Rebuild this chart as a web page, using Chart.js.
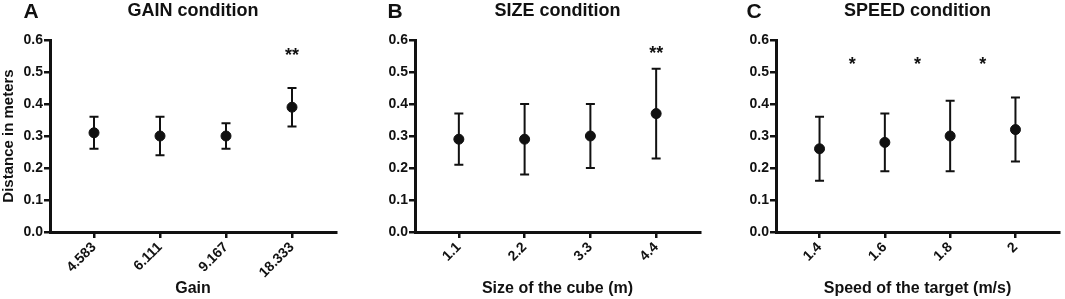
<!DOCTYPE html>
<html>
<head>
<meta charset="utf-8">
<script src="https://cdn.jsdelivr.net/npm/chart.js@4"></script>
<style>
  body { margin: 0; background: #fff; }
  #wrap { position: relative; width: 1065px; height: 299px; }
  .panel { position: absolute; top: 0; width: 355px; height: 299px; }
</style>
</head>
<body>
<div id="wrap">
  <div class="panel" style="left:0"><canvas id="chartGain" width="355" height="299"></canvas></div>
  <div class="panel" style="left:355px"><canvas id="chartSize" width="355" height="299"></canvas></div>
  <div class="panel" style="left:710px"><canvas id="chartSpeed" width="355" height="299"></canvas></div>
</div>
<script>
// Datos
const gainLabels = ['4.583', '6.111', '9.167', '18.333'];
const gainMean = [0.31, 0.30, 0.30, 0.39];
const gainLow = [0.26, 0.24, 0.26, 0.33];
const gainHigh = [0.36, 0.36, 0.34, 0.45];
const gainStarsX = [4];
const gainStarsY = [0.56];
const gainStarsText = ['**'];

const sizeLabels = ['1.1', '2.2', '3.3', '4.4'];
const sizeMean = [0.29, 0.29, 0.30, 0.37];
const sizeLow = [0.21, 0.18, 0.20, 0.23];
const sizeHigh = [0.37, 0.40, 0.40, 0.51];
const sizeStarsX = [4];
const sizeStarsY = [0.565];
const sizeStarsText = ['**'];

const speedLabels = ['1.4', '1.6', '1.8', '2'];
const speedMean = [0.26, 0.28, 0.30, 0.32];
const speedLow = [0.16, 0.19, 0.19, 0.22];
const speedHigh = [0.36, 0.37, 0.41, 0.42];
const speedStarsX = [1.5, 2.5, 3.5];
const speedStarsY = [0.53, 0.53, 0.53];
const speedStarsText = ['*', '*', '*'];

const yTicks = [0, 0.1, 0.2, 0.3, 0.4, 0.5, 0.6];

const FONT = '"Liberation Sans", Arial, sans-serif';

// Barras de error + asteriscos + titulo del panel
const errorBarsPlugin = {
    id: 'errorBars',
    beforeDatasetsDraw(chart, args, opts) {
        const ctx = chart.ctx;
        const xs = chart.scales.x;
        const ys = chart.scales.y;
        ctx.save();
        ctx.strokeStyle = '#111';
        ctx.lineWidth = 2;
        opts.low.forEach((lo, i) => {
            const x = xs.getPixelForValue(i + 1);
            const yl = ys.getPixelForValue(lo);
            const yh = ys.getPixelForValue(opts.high[i]);
            ctx.beginPath();
            ctx.moveTo(x, yl);
            ctx.lineTo(x, yh);
            ctx.moveTo(x - 4.5, yl);
            ctx.lineTo(x + 4.5, yl);
            ctx.moveTo(x - 4.5, yh);
            ctx.lineTo(x + 4.5, yh);
            ctx.stroke();
        });
        ctx.restore();
    },
    afterDraw(chart, args, opts) {
        const ctx = chart.ctx;
        const xs = chart.scales.x;
        const ys = chart.scales.y;
        const area = chart.chartArea;
        ctx.save();
        ctx.fillStyle = '#111';
        ctx.textAlign = 'center';
        ctx.textBaseline = 'middle';
        ctx.font = 'bold 18px ' + FONT;
        opts.starsX.forEach((sx, i) => {
            ctx.fillText(opts.starsText[i], xs.getPixelForValue(sx), ys.getPixelForValue(opts.starsY[i]) + 3);
        });
        ctx.font = 'bold 18px ' + FONT;
        ctx.fillText(opts.title, (area.left + area.right) / 2, 11);
        ctx.font = 'bold 21px ' + FONT;
        ctx.fillText(opts.letter, opts.letterX, 12);
        ctx.restore();
    }
};

function makePanel(canvasId, labels, mean, low, high, starsX, starsY, starsText, cfg) {
    const ctx = document.getElementById(canvasId).getContext('2d');
    return new Chart(ctx, {
        type: 'scatter',
        data: {
            datasets: [{
                data: mean.map((m, i) => ({ x: i + 1, y: m })),
                backgroundColor: '#111',
                borderColor: '#111',
                pointRadius: 5,
                pointHoverRadius: 5,
                showLine: false
            }]
        },
        options: {
            responsive: false,
            animation: false,
            layout: { padding: { top: 40, left: 0, right: cfg.right, bottom: 0 } },
            plugins: {
                legend: { display: false },
                tooltip: { enabled: false },
                errorBars: {
                    low: low, high: high,
                    starsX: starsX, starsY: starsY, starsText: starsText,
                    title: cfg.title, letter: cfg.letter, letterX: cfg.letterX
                }
            },
            scales: {
                x: {
                    type: 'linear',
                    min: 1 - 44 / 66,
                    max: 4 + 44 / 66,
                    afterBuildTicks: (scale) => {
                        scale.ticks = labels.map((l, i) => ({ value: i + 1 }));
                    },
                    afterFit: (scale) => { scale.height = 67; },
                    border: { display: true, color: '#111', width: 3 },
                    grid: { drawOnChartArea: false, color: '#111', lineWidth: 2.5, tickLength: 6 },
                    ticks: {
                        color: '#111',
                        font: { family: FONT, size: 14, weight: 'bold' },
                        minRotation: 45,
                        maxRotation: 45,
                        padding: 1,
                        callback: (v) => labels[v - 1]
                    },
                    title: {
                        display: true,
                        text: cfg.xTitle,
                        color: '#111',
                        font: { family: FONT, size: 16, weight: 'bold' },
                        padding: { top: 0, bottom: 1 }
                    }
                },
                y: {
                    min: 0,
                    max: 0.6,
                    afterBuildTicks: (scale) => {
                        scale.ticks = yTicks.map(v => ({ value: v }));
                    },
                    afterFit: (scale) => { scale.width = cfg.yWidth; },
                    border: { display: true, color: '#111', width: 3 },
                    grid: { drawOnChartArea: false, color: '#111', lineWidth: 2.5, tickLength: 6 },
                    ticks: {
                        color: '#111',
                        font: { family: FONT, size: 14, weight: 'bold' },
                        padding: 1,
                        callback: (v) => v.toFixed(1)
                    },
                    title: {
                        display: !!cfg.yTitle,
                        text: cfg.yTitle || '',
                        color: '#111',
                        font: { family: FONT, size: 15, weight: 'bold' },
                        padding: { top: 0, bottom: 0 }
                    }
                }
            }
        },
        plugins: [errorBarsPlugin]
    });
}

Chart.register(errorBarsPlugin);

makePanel('chartGain', gainLabels, gainMean, gainLow, gainHigh, gainStarsX, gainStarsY, gainStarsText,
    { title: 'GAIN condition', letter: 'A', letterX: 31, xTitle: 'Gain', yTitle: 'Distance in meters', yWidth: 50, right: 19 });
makePanel('chartSize', sizeLabels, sizeMean, sizeLow, sizeHigh, sizeStarsX, sizeStarsY, sizeStarsText,
    { title: 'SIZE condition', letter: 'B', letterX: 40, xTitle: 'Size of the cube (m)', yWidth: 60, right: 10 });
makePanel('chartSpeed', speedLabels, speedMean, speedLow, speedHigh, speedStarsX, speedStarsY, speedStarsText,
    { title: 'SPEED condition', letter: 'C', letterX: 44, xTitle: 'Speed of the target (m/s)', yWidth: 66, right: 2 });
</script>
</body>
</html>
